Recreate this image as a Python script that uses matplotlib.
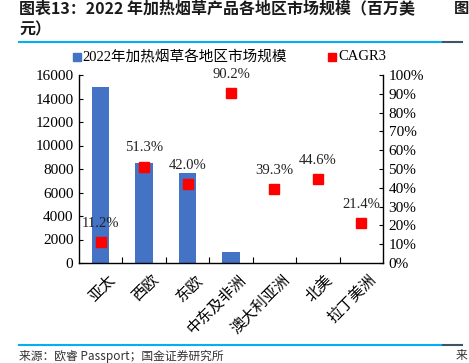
import matplotlib
matplotlib.use("Agg")
import matplotlib.pyplot as plt
from matplotlib.lines import Line2D

categories = ["亚太", "西欧", "东欧", "中东及非洲", "澳大利亚洲", "北美", "拉丁美洲"]
market_size = [15000, 8550, 7700, 950, 40, 30, 20]
cagr = [11.2, 51.3, 42.0, 90.2, 39.3, 44.6, 21.4]
left_ticks = [0, 2000, 4000, 6000, 8000, 10000, 12000, 14000, 16000]
right_ticks = list(range(0, 101, 10))
legend_bar = "2022年加热烟草各地区市场规模"
legend_pt = "CAGR3"
title1 = "图表13：2022 年加热烟草产品各地区市场规模（百万美"
title2 = "元）"
source = "来源：欧睿 Passport；国金证券研究所"

FAM = ["Liberation Serif", "Noto Sans CJK SC"]
CJK = ["Noto Sans CJK SC", "DejaVu Sans"]
plt.rcParams["font.family"] = FAM

W, H = 469, 363
fig = plt.figure(figsize=(W / 100, H / 100), dpi=100)

def fx(px):
    return px / W

def fy(py):
    return 1 - py / H

ax = fig.add_axes([fx(79), fy(263), fx(383) - fx(79), fy(75) - fy(263)])
x = list(range(len(categories)))
ax.bar(x, market_size, width=0.4, color="#4472C4", zorder=2)
ax.set_xlim(-0.5, len(categories) - 0.5)
ax.set_ylim(0, 16000)
ax.set_yticks(left_ticks)
ax.set_yticklabels([str(v) for v in left_ticks], fontsize=11)
ax.set_xticks([i + 0.5 for i in range(len(categories) - 1)], minor=False)
ax.set_xticklabels([])
ax.tick_params(axis="x", direction="in", length=4, width=0.8)
ax.tick_params(axis="y", direction="in", length=3, width=0.8, pad=4)
for i, c in enumerate(categories):
    ax.text(i + 0.15, -700, c, rotation=45, ha="right", va="top",
            fontsize=11, family=CJK, rotation_mode="anchor")
ax.spines["top"].set_visible(False)
ax.spines["right"].set_visible(False)
for s in ["left", "bottom"]:
    ax.spines[s].set_linewidth(1.0)
ax.set_facecolor("none")

ax2 = ax.twinx()
ax2.set_ylim(0, 100)
ax2.set_yticks(right_ticks)
ax2.set_yticklabels([f"{v}%" for v in right_ticks], fontsize=11)
ax2.tick_params(axis="y", direction="in", length=3, width=0.8, pad=4)
ax2.spines["top"].set_visible(False)
ax2.spines["left"].set_visible(False)
ax2.spines["bottom"].set_visible(False)
ax2.spines["right"].set_linewidth(1.0)
ax2.plot(x, cagr, linestyle="none", marker="s", markersize=6.5,
         color="#FF0000", zorder=3)
for i, v in enumerate(cagr):
    ax2.annotate(f"{v:.1f}%", (i, v), xytext=(0, 13.5), textcoords="offset points",
                 ha="center", va="center", fontsize=10.5, color="#222222")

# legend
fig.add_artist(Line2D([fx(77)], [fy(57)], marker="s", markersize=5.5,
                      color="#4472C4", linestyle="none"))
fig.text(fx(82), fy(57), legend_bar, fontsize=10.5, va="center", ha="left", family=FAM)
fig.add_artist(Line2D([fx(332)], [fy(57)], marker="s", markersize=5.5,
                      color="#FF0000", linestyle="none"))
fig.text(fx(338), fy(57), legend_pt, fontsize=10.5, va="center", ha="left", family=FAM)

# header / footer
fig.text(fx(19), fy(8), title1, fontsize=11.5, fontweight="bold",
         va="center", ha="left", family=CJK, color="#1a1a1a")
fig.text(fx(19), fy(29), title2, fontsize=11.5, fontweight="bold",
         va="center", ha="left", family=CJK, color="#1a1a1a")
fig.text(fx(454), fy(8), "图", fontsize=11, fontweight="bold",
         va="center", ha="left", family=CJK, color="#1a1a1a")
fig.add_artist(Line2D([fx(19), fx(441)], [fy(42), fy(42)], color="#00B0F0", lw=1.5))
fig.add_artist(Line2D([fx(443), fx(462)], [fy(42), fy(42)], color="#3F5466", lw=1.5))
fig.add_artist(Line2D([fx(19), fx(441)], [fy(345), fy(345)], color="#00B0F0", lw=1.5))
fig.add_artist(Line2D([fx(443), fx(462)], [fy(345), fy(345)], color="#3F5466", lw=1.5))
fig.text(fx(19), fy(356), source, fontsize=8.5, va="center", ha="left",
         family=CJK, color="#333333")
fig.text(fx(456), fy(356), "来", fontsize=8.5, va="center", ha="left",
         family=CJK, color="#333333")

fig.savefig("out.png", dpi=100)
